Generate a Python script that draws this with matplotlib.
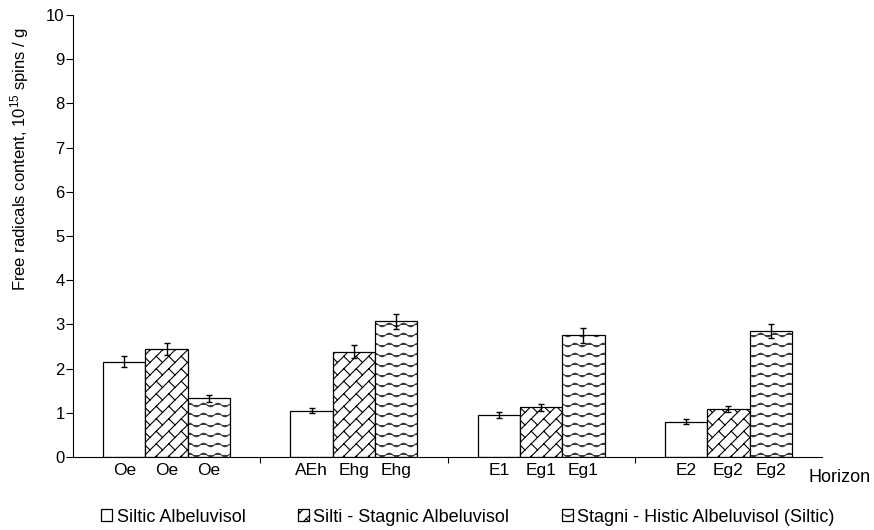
import numpy as np
import matplotlib
matplotlib.use("Agg")
import matplotlib.pyplot as plt
from matplotlib import hatch as mhatch
from matplotlib.colors import to_rgba
from matplotlib.path import Path
import warnings

warnings.filterwarnings("ignore", message=".*hatch must consist.*")

# horizons and soils
groups = ["Oe", "AEh/Ehg", "E1/Eg1", "E2/Eg2"]
soils = ["Siltic Albeluvisol", "Silti - Stagnic Albeluvisol",
         "Stagni - Histic Albeluvisol (Siltic)"]
bar_labels = [["Oe", "Oe", "Oe"],
              ["AEh", "Ehg", "Ehg"],
              ["E1", "Eg1", "Eg1"],
              ["E2", "Eg2", "Eg2"]]

# free radicals content, 10^15 spins / g (one list per soil)
siltic = [2.16, 1.05, 0.95, 0.80]
silti_stagnic = [2.45, 2.38, 1.12, 1.08]
stagni_histic = [1.33, 3.07, 2.75, 2.85]
siltic_err = [0.13, 0.06, 0.06, 0.05]
silti_stagnic_err = [0.14, 0.15, 0.07, 0.07]
stagni_histic_err = [0.08, 0.17, 0.17, 0.15]


class WaveHatch(mhatch.HatchPatternBase):
    """Horizontal wavy lines, used with '~'."""
    def __init__(self, hatch, density):
        self.rows = int(hatch.count('~') * density * 0.9)
        self.npts = 57
        self.num_vertices = self.rows * self.npts

    def set_vertices_and_codes(self, vertices, codes):
        t = np.linspace(0, 1, self.npts)
        for i in range(self.rows):
            k = i * self.npts
            vertices[k:k + self.npts, 0] = t
            vertices[k:k + self.npts, 1] = (i + 0.5) / self.rows + 0.018 * np.sin(2 * np.pi * 7 * t)
            codes[k] = Path.MOVETO
            codes[k + 1:k + self.npts] = Path.LINETO


class BrickHatch(mhatch.HatchPatternBase):
    """Diagonal brick pattern, used with 'b'."""
    def __init__(self, hatch, density):
        segs = []
        if 'b' in hatch:
            n, m = 8, 8
            d, L = 1.0 / n, 1.0 / m
            lines, rungs = [], []
            for i in range(-n - 1, n + 2):
                c = i * d
                lines.append(((-0.6, -0.6 + c), (1.6, 1.6 + c)))
                for j in range(-2 * m, 2 * m + 1):
                    u = j * L - i * d / 2 + (i % 2) * L / 2
                    a = (u, u + c)
                    b = (u - d / 2, u + c + d / 2)
                    if -0.2 < u < 1.2 and -0.2 < u + c < 1.2:
                        rungs.append((a, b))
            segs = lines + rungs
        self.segs = segs
        self.num_vertices = 2 * len(segs)

    def set_vertices_and_codes(self, vertices, codes):
        for k, (a, b) in enumerate(self.segs):
            vertices[2 * k] = a
            vertices[2 * k + 1] = b
            codes[2 * k] = Path.MOVETO
            codes[2 * k + 1] = Path.LINETO


mhatch._hatch_types.extend([WaveHatch, BrickHatch])

plt.rcParams['font.family'] = ['Liberation Sans', 'DejaVu Sans']
plt.rcParams['mathtext.default'] = 'regular'
plt.rcParams['hatch.linewidth'] = 0.8
plt.rcParams['path.simplify'] = False

fig = plt.figure(figsize=(8.74, 5.30), dpi=100)
ax = fig.add_axes([73 / 874, 1 - 457 / 530, 749 / 874, 442 / 530])

x = np.arange(len(groups))
w = 0.226
series = [(siltic, siltic_err, None), (silti_stagnic, silti_stagnic_err, 'b'),
          (stagni_histic, stagni_histic_err, '~~')]
handles = []
for k, (vals, errs, h) in enumerate(series):
    bars = ax.bar(x + (k - 1) * w, vals, w, yerr=errs, color='white',
                  edgecolor='black', linewidth=0.9, hatch=h,
                  error_kw=dict(ecolor='black', elinewidth=1, capsize=2.5, capthick=1),
                  label=soils[k])
    if h == '~~':
        for p in bars.patches:
            p._hatch_color = to_rgba('#3a3a3a')
    handles.append(bars)

ax.set_xlim(-0.5, len(groups) - 0.5)
ax.set_ylim(0, 10)
ax.set_yticks(range(0, 11))
ax.tick_params(axis='y', labelsize=12, length=5, width=0.8, pad=1)

pos = np.concatenate([x + (k - 1) * w for k in range(3)])
labs = [bar_labels[g][k] for k in range(3) for g in range(len(groups))]
ax.set_xticks(pos, labs)
ax.set_xticks(np.arange(0.5, len(groups) - 0.5), minor=True)
ax.tick_params(axis='x', which='major', length=0, labelsize=12.5, pad=4)
ax.tick_params(axis='x', which='minor', length=4, width=0.8, direction='out')

ax.spines['top'].set_visible(False)
ax.spines['right'].set_visible(False)
ax.spines['left'].set_linewidth(0.8)
ax.spines['bottom'].set_linewidth(0.8)

ax.set_ylabel('Free radicals content, 10$^{15}$ spins / g', fontsize=12)
ax.yaxis.set_label_coords(-0.056, 0.675)

fig.text(808 / 874, 1 - 482 / 530, 'Horizon', fontsize=13, ha='left', va='baseline')

fig.legend(handles=handles, loc='center', bbox_to_anchor=(468 / 874, 1 - 517 / 530),
           ncol=3, frameon=False, fontsize=13, handlelength=0.6, handleheight=0.6,
           handletextpad=0.25, columnspacing=2.9, borderpad=0)

fig.savefig('out.png', dpi=100)
